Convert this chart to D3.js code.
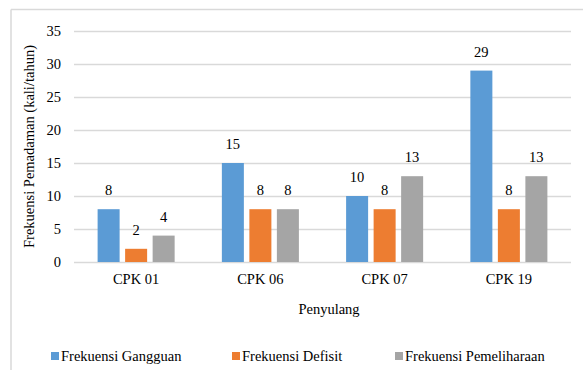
<!DOCTYPE html>
<html>
<head>
<meta charset="utf-8">
<script src="https://cdn.jsdelivr.net/npm/d3@7"></script>
<style>
  html, body { margin: 0; padding: 0; background: #fff; }
  svg text { font-family: "Liberation Serif", "Times New Roman", "DejaVu Serif", serif !important; fill: #000; }
</style>
</head>
<body>
<svg id="chart" width="583" height="370"></svg>
<script>
const categories = ["CPK 01", "CPK 06", "CPK 07", "CPK 19"];
const seriesNames = ["Frekuensi Gangguan", "Frekuensi Defisit", "Frekuensi Pemeliharaan"];
const seriesColors = ["#5b9bd5", "#ed7d31", "#a5a5a5"];
const gangguan = [8, 15, 10, 29];
const defisit = [2, 8, 8, 8];
const pemeliharaan = [4, 8, 13, 13];
const yTicks = [0, 5, 10, 15, 20, 25, 30, 35];

const seriesValues = [gangguan, defisit, pemeliharaan];
const rows = categories.map((c, i) => ({
  cat: c,
  vals: seriesNames.map((s, j) => ({ key: s, value: seriesValues[j][i] }))
}));

const svg = d3.select("#chart");
const margin = { top: 31, right: 12, bottom: 108, left: 74 };
const width = 583, height = 370;
const fs = 14.5;

// chart frame (only top and left edges visible in the crop)
svg.append("line").attr("x1", 11).attr("x2", width).attr("y1", 9.5).attr("y2", 9.5)
  .attr("stroke", "#d9d9d9").attr("stroke-width", 1.5);
svg.append("line").attr("x1", 11).attr("x2", 11).attr("y1", 9.5).attr("y2", height)
  .attr("stroke", "#d9d9d9").attr("stroke-width", 1.5);

const y = d3.scaleLinear().domain([0, 35]).range([height - margin.bottom, margin.top]);
const x0 = d3.scaleBand().domain(categories)
  .range([margin.left, width - margin.right])
  .paddingInner(0.38).paddingOuter(0.19);
const x1 = d3.scaleBand().domain(seriesNames)
  .range([0, x0.bandwidth()]).paddingInner(0.2);
const color = d3.scaleOrdinal().domain(seriesNames).range(seriesColors);

// gridlines
svg.append("g").selectAll("line").data(yTicks).join("line")
  .attr("x1", margin.left).attr("x2", width - margin.right)
  .attr("y1", d => Math.round(y(d)) + 0.5).attr("y2", d => Math.round(y(d)) + 0.5)
  .attr("stroke", "#d9d9d9").attr("stroke-width", 1.5);

// y axis labels
const yAxis = svg.append("g")
  .attr("transform", `translate(${margin.left - 13},0)`)
  .call(d3.axisLeft(y).tickValues(yTicks).tickSize(0).tickPadding(0));
yAxis.select(".domain").remove();
yAxis.selectAll("text").attr("font-size", fs);

// x axis labels
const xAxis = svg.append("g")
  .attr("transform", `translate(0,${height - margin.bottom})`)
  .call(d3.axisBottom(x0).tickSize(0).tickPadding(12));
xAxis.select(".domain").remove();
xAxis.selectAll("text").attr("font-size", fs);

// bars
const groups = svg.append("g").selectAll("g").data(rows).join("g")
  .attr("transform", d => `translate(${x0(d.cat)},0)`);

groups.selectAll("rect").data(d => d.vals).join("rect")
  .attr("x", d => x1(d.key))
  .attr("y", d => y(d.value))
  .attr("width", x1.bandwidth())
  .attr("height", d => y(0) - y(d.value))
  .attr("fill", d => color(d.key));

groups.selectAll("text").data(d => d.vals).join("text")
  .attr("x", d => x1(d.key) + x1.bandwidth() / 2)
  .attr("y", d => y(d.value) - 14)
  .attr("text-anchor", "middle")
  .attr("font-size", fs)
  .text(d => d.value);

// axis titles
svg.append("text")
  .attr("transform", `translate(34,${(y(0) + y(35)) / 2}) rotate(-90)`)
  .attr("text-anchor", "middle")
  .attr("font-size", fs)
  .text("Frekuensi Pemadaman (kali/tahun)");

svg.append("text")
  .attr("x", 329).attr("y", 314)
  .attr("text-anchor", "middle")
  .attr("font-size", fs)
  .text("Penyulang");

// legend
const legendX = [51, 232, 395];
const legend = svg.append("g").selectAll("g").data(seriesNames).join("g")
  .attr("transform", (d, i) => `translate(${legendX[i]},352)`);
legend.append("rect").attr("width", 8).attr("height", 8).attr("fill", d => color(d));
legend.append("text").attr("x", 10).attr("y", 9)
  .attr("font-size", fs)
  .text(d => d);
</script>
</body>
</html>
